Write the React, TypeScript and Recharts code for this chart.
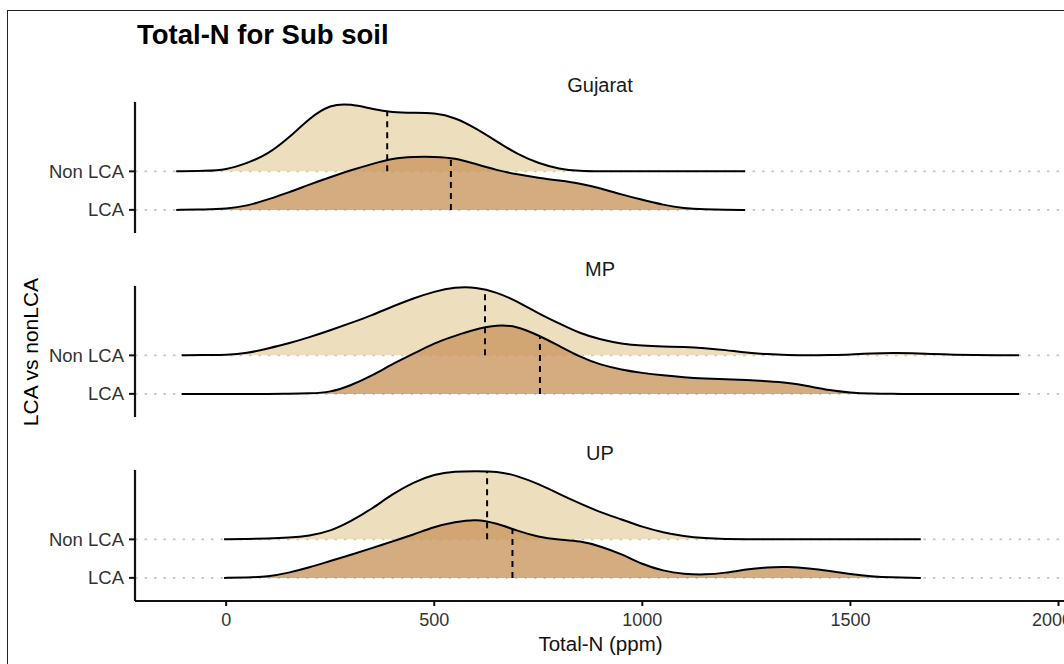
import { Area, CartesianGrid, ComposedChart, ReferenceLine, XAxis, YAxis } from 'recharts';

const FONT = '"Liberation Sans", Arial, Helvetica, sans-serif';

// ridge rows from bottom to top
const groups = ['LCA', 'Non LCA'];
const regions = ['Gujarat', 'MP', 'UP'];
const xTicks = [0, 500, 1000, 1500, 2000];

// Total-N grid (ppm) and ridge heights (in units of row spacing)
const gujaratN = [-120, -50, 0, 50, 100, 150, 200, 250, 300, 350, 400, 450, 500, 550, 600, 650, 700, 750, 800, 850, 900, 950, 1000, 1050, 1100, 1150, 1200, 1247];
const gujaratNonLca = [0, 0.01, 0.04, 0.21, 0.44, 0.86, 1.38, 1.74, 1.75, 1.62, 1.53, 1.52, 1.52, 1.4, 1.12, 0.78, 0.44, 0.21, 0.06, 0.01, 0, 0, 0, 0, 0, 0, 0, 0];
const gujaratLca = [0, 0.01, 0.03, 0.1, 0.27, 0.45, 0.66, 0.85, 1.03, 1.19, 1.34, 1.38, 1.38, 1.35, 1.19, 1.03, 0.92, 0.83, 0.76, 0.69, 0.56, 0.4, 0.26, 0.13, 0.04, 0.01, 0, 0];

const mpN = [-107, -50, 0, 50, 100, 150, 200, 250, 300, 350, 400, 450, 500, 550, 600, 650, 700, 750, 800, 850, 900, 950, 1000, 1050, 1100, 1150, 1200, 1250, 1300, 1350, 1400, 1450, 1500, 1550, 1600, 1650, 1700, 1750, 1800, 1850, 1900, 1905];
const mpNonLca = [0, 0.01, 0.01, 0.05, 0.18, 0.31, 0.47, 0.65, 0.84, 1.04, 1.27, 1.48, 1.66, 1.77, 1.77, 1.64, 1.4, 1.09, 0.83, 0.57, 0.41, 0.3, 0.25, 0.23, 0.22, 0.19, 0.14, 0.065, 0.03, 0.01, 0, 0.01, 0.02, 0.05, 0.065, 0.06, 0.03, 0.015, 0.01, 0, 0, 0];
const mpLca = [0, 0, 0, 0, 0, 0, 0.01, 0.04, 0.22, 0.47, 0.78, 1.04, 1.32, 1.51, 1.68, 1.79, 1.76, 1.52, 1.25, 0.96, 0.75, 0.63, 0.54, 0.48, 0.43, 0.4, 0.38, 0.36, 0.33, 0.29, 0.2, 0.09, 0.03, 0.005, 0, 0, 0, 0, 0, 0, 0, 0];

const upN = [-5, 50, 100, 150, 200, 250, 300, 350, 400, 450, 500, 550, 600, 650, 700, 750, 800, 850, 900, 950, 1000, 1050, 1100, 1150, 1200, 1250, 1300, 1350, 1400, 1450, 1500, 1550, 1600, 1650, 1669];
const upNonLca = [0, 0.01, 0.02, 0.04, 0.09, 0.21, 0.47, 0.79, 1.18, 1.48, 1.69, 1.77, 1.77, 1.77, 1.65, 1.44, 1.18, 0.93, 0.7, 0.52, 0.32, 0.18, 0.08, 0.03, 0.01, 0, 0, 0, 0, 0, 0, 0, 0, 0, 0];
const upLca = [0, 0.01, 0.03, 0.13, 0.27, 0.44, 0.6, 0.77, 0.95, 1.12, 1.33, 1.45, 1.53, 1.42, 1.22, 1.06, 0.99, 0.96, 0.82, 0.62, 0.35, 0.18, 0.1, 0.08, 0.13, 0.22, 0.28, 0.29, 0.25, 0.18, 0.1, 0.04, 0.01, 0, 0];

// medians per region: Gujarat, MP, UP
const medianNonLca = [387, 622, 627];
const medianLca = [540, 754, 688];

const X_DOMAIN = [-219, 2018];
const Y_DOMAIN = [0.4, 3.8];
const NON_LCA_FILL = '#E9D6AE';
const LCA_FILL = '#C99760';
const INK = '#111';

const PANEL_TOPS = [102, 286, 470];
const PLOT_H = 131;

// linear lookup of a ridge height at a given Total-N
function heightAt(n: number[], h: number[], x: number) {
  for (let i = 1; i < n.length; i++) {
    if (x <= n[i]) {
      const t = (x - n[i - 1]) / (n[i] - n[i - 1]);
      return h[i - 1] + t * (h[i] - h[i - 1]);
    }
  }
  return h[h.length - 1];
}

interface RidgePanelProps {
  n: number[];
  nonLca: number[];
  lca: number[];
  medNonLca: number;
  medLca: number;
  top: number;
  showX: boolean;
}

function RidgePanel({ n, nonLca, lca, medNonLca, medLca, top, showX }: RidgePanelProps) {
  const rows = n.map((v, i) => ({ n: v, nonLca: nonLca[i], lca: lca[i] }));
  const hNon = heightAt(n, nonLca, medNonLca);
  const hLca = heightAt(n, lca, medLca);

  return (
    <div style={{ position: 'absolute', left: 0, top }}>
      <ComposedChart
        width={1070}
        height={showX ? PLOT_H + 62 : PLOT_H}
        data={rows}
        margin={{ top: 0, right: 4, bottom: 0, left: 0 }}
      >
        <CartesianGrid
          vertical={false}
          horizontalValues={[1, 2]}
          stroke="#c4c4c4"
          strokeWidth={1.6}
          strokeDasharray="2.5 7"
        />
        <XAxis
          type="number"
          dataKey="n"
          domain={X_DOMAIN}
          allowDataOverflow
          ticks={xTicks}
          hide={!showX}
          height={62}
          tickSize={5}
          tickMargin={7}
          axisLine={{ stroke: INK, strokeWidth: 2.2 }}
          tickLine={{ stroke: INK, strokeWidth: 2 }}
          tick={{ fill: '#333', fontSize: 18, fontFamily: FONT }}
          label={{ value: 'Total-N (ppm)', position: 'insideBottom', offset: 12, fill: INK, fontSize: 20.5, fontFamily: FONT }}
        />
        <YAxis
          type="number"
          domain={Y_DOMAIN}
          allowDataOverflow
          ticks={[1, 2]}
          tickFormatter={(v: number) => groups[v - 1]}
          width={135}
          tickSize={6}
          tickMargin={5}
          axisLine={{ stroke: INK, strokeWidth: 2.2 }}
          tickLine={{ stroke: INK, strokeWidth: 2 }}
          tick={{ fill: '#333', fontSize: 18.5, fontFamily: FONT }}
        />
        <Area
          type="basis"
          dataKey={(d: { nonLca: number }) => 2 + d.nonLca}
          baseValue={2}
          stroke="#000"
          strokeWidth={2}
          fill={NON_LCA_FILL}
          fillOpacity={0.8}
          dot={false}
          activeDot={false}
          isAnimationActive={false}
        />
        <ReferenceLine
          segment={[{ x: medNonLca, y: 2 }, { x: medNonLca, y: 2 + hNon }]}
          stroke="#000"
          strokeWidth={2}
          strokeDasharray="6 5"
        />
        <Area
          type="basis"
          dataKey={(d: { lca: number }) => 1 + d.lca}
          baseValue={1}
          stroke="#000"
          strokeWidth={2}
          fill={LCA_FILL}
          fillOpacity={0.8}
          dot={false}
          activeDot={false}
          isAnimationActive={false}
        />
        <ReferenceLine
          segment={[{ x: medLca, y: 1 }, { x: medLca, y: 1 + hLca }]}
          stroke="#000"
          strokeWidth={2}
          strokeDasharray="6 5"
        />
      </ComposedChart>
    </div>
  );
}

export default function App() {
  const panels = [
    { n: gujaratN, nonLca: gujaratNonLca, lca: gujaratLca },
    { n: mpN, nonLca: mpNonLca, lca: mpLca },
    { n: upN, nonLca: upNonLca, lca: upLca },
  ];

  return (
    <div
      style={{
        position: 'absolute',
        left: 0,
        top: 0,
        width: 1064,
        height: 664,
        overflow: 'hidden',
        background: '#fff',
        fontFamily: FONT,
      }}
    >
      <div
        style={{
          position: 'absolute',
          left: 7,
          top: 10,
          width: 1100,
          height: 700,
          borderLeft: '1.4px solid #222',
          borderTop: '1.4px solid #222',
        }}
      />
      {panels.map((p, i) => (
        <RidgePanel
          key={regions[i]}
          n={p.n}
          nonLca={p.nonLca}
          lca={p.lca}
          medNonLca={medianNonLca[i]}
          medLca={medianLca[i]}
          top={PANEL_TOPS[i]}
          showX={i === panels.length - 1}
        />
      ))}
      <svg
        width={1064}
        height={664}
        style={{ position: 'absolute', left: 0, top: 0, pointerEvents: 'none' }}
      >
        <text x={137} y={43.5} fontSize={27.5} fontWeight="bold" fill="#000" fontFamily={FONT}>
          Total-N for Sub soil
        </text>
        {regions.map((r, i) => (
          <text
            key={r}
            x={600}
            y={PANEL_TOPS[i] - 10.5}
            textAnchor="middle"
            fontSize={20}
            fill="#1a1a1a"
            fontFamily={FONT}
          >
            {r}
          </text>
        ))}
        <text
          transform="translate(38, 352) rotate(-90)"
          textAnchor="middle"
          fontSize={21}
          fill="#000"
          fontFamily={FONT}
        >
          LCA vs nonLCA
        </text>
      </svg>
    </div>
  );
}
